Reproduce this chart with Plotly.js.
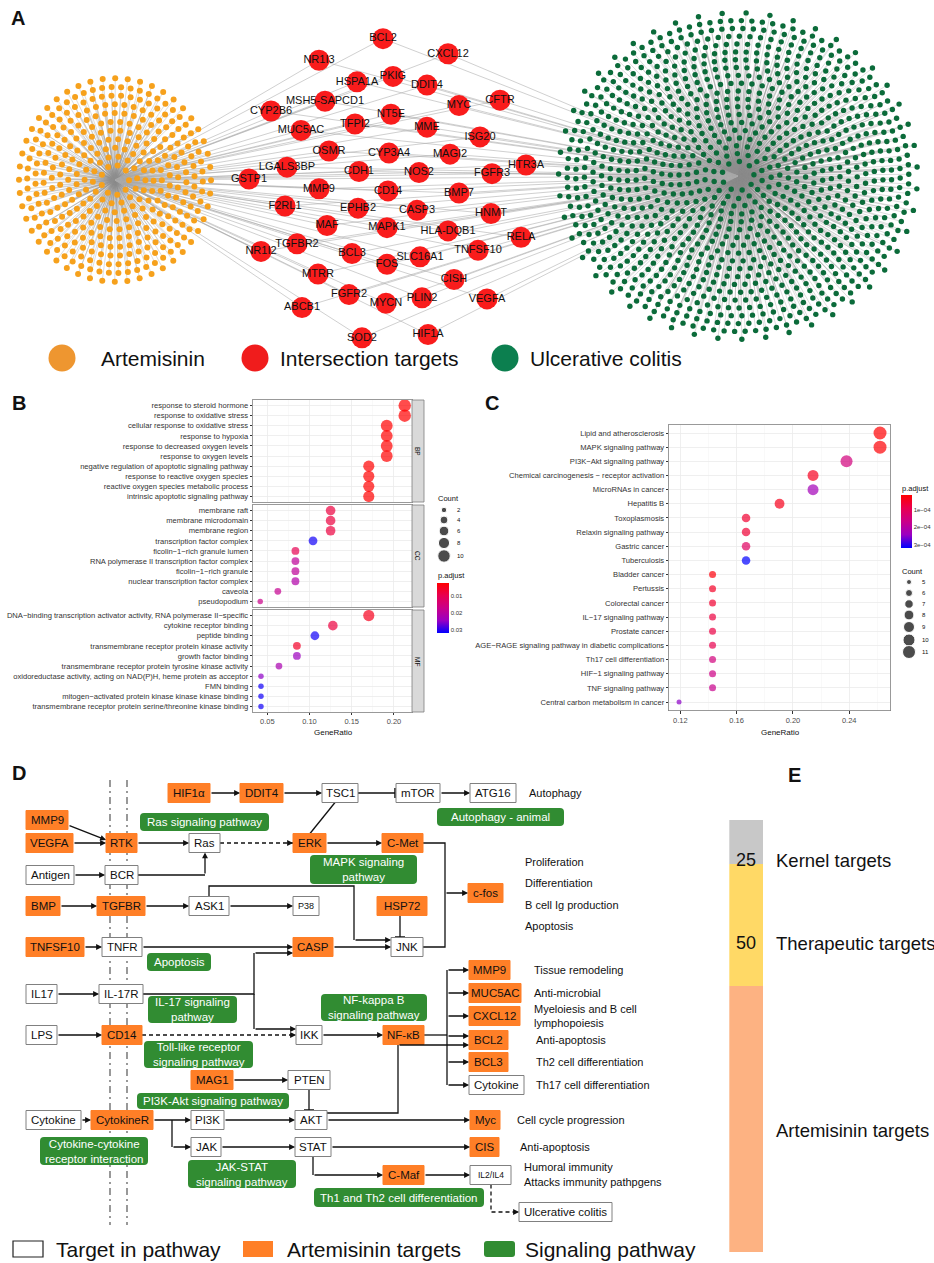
<!DOCTYPE html>
<html><head><meta charset="utf-8">
<script src="https://cdn.plot.ly/plotly-3.0.1.min.js"></script>
<style>html,body{margin:0;padding:0;background:#fff}#chart{width:934px;height:1263px}</style>
</head><body><div id="chart"></div>
<script>
// ================= DATA =================
// Panel A
const legendA = ['Artemisinin', 'Intersection targets', 'Ulcerative colitis'];
const intersectionTargets = ['BCL2','NR1I3','CXCL12','HSPA1A','PKIG','DDIT4','MSH5-SAPCD1','CYP2B6','MYC','CFTR',
 'NT5E','MME','TFPI2','MUC5AC','ISG20','OSMR','CYP3A4','MAGI2','HTR3A','LGALS3BP',
 'CDH1','NOS2','FGFR3','GSTP1','MMP9','CD14','BMP7','F2RL1','EPHB2','CASP3',
 'HNMT','MAF','MAPK1','HLA-DQB1','RELA','NR1I2','TGFBR2','BCL3','FOS','SLC16A1',
 'TNFSF10','MTRR','CISH','FGFR2','MYCN','PLIN2','VEGFA','ABCB1','SOD2','HIF1A'];
const artemisininNodeCount = 380;   // estimated number of orange nodes
const colitisNodeCount = 1100;      // estimated number of green nodes

// Panel B (GO)
const bpTerms = ['response to steroid hormone','response to oxidative stress','cellular response to oxidative stress','response to hypoxia','response to decreased oxygen levels','response to oxygen levels','negative regulation of apoptotic signaling pathway','response to reactive oxygen species','reactive oxygen species metabolic process','intrinsic apoptotic signaling pathway'];
const bpCounts = [10,10,9,9,9,9,8,8,8,8];
const bpPadj = [0.0003,0.0003,0.0005,0.0005,0.0005,0.0005,0.0008,0.0008,0.0008,0.0008];
const ccTerms = ['membrane raft','membrane microdomain','membrane region','transcription factor complex','ficolin\u22121\u2212rich granule lumen','RNA polymerase II transcription factor complex','ficolin\u22121\u2212rich granule','nuclear transcription factor complex','caveola','pseudopodium'];
const ccCounts = [6,6,6,5,4,4,4,4,3,2];
const ccPadj = [0.008,0.008,0.008,0.031,0.010,0.019,0.019,0.021,0.018,0.017];
const mfTerms = ['DNA\u2212binding transcription activator activity, RNA polymerase II\u2212specific','cytokine receptor binding','peptide binding','transmembrane receptor protein kinase activity','growth factor binding','transmembrane receptor protein tyrosine kinase activity','oxidoreductase activity, acting on NAD(P)H, heme protein as acceptor','FMN binding','mitogen\u2212activated protein kinase kinase kinase binding','transmembrane receptor protein serine/threonine kinase binding'];
const mfCounts = [8,6,5,4,4,3,2,2,2,2];
const mfPadj = [0.005,0.008,0.031,0.006,0.024,0.022,0.025,0.031,0.031,0.031];
const goDenominators = {BP:47, CC:48, MF:47};
const goCountLegend = [2,4,6,8,10];
const goPadjTicks = [0.01,0.02,0.03];

// Panel C (KEGG)
const keggTerms = ['Lipid and atherosclerosis','MAPK signaling pathway','PI3K\u2212Akt signaling pathway','Chemical carcinogenesis \u2212 receptor activation','MicroRNAs in cancer','Hepatitis B','Toxoplasmosis','Relaxin signaling pathway','Gastric cancer','Tuberculosis','Bladder cancer','Pertussis','Colorectal cancer','IL\u221217 signaling pathway','Prostate cancer','AGE\u2212RAGE signaling pathway in diabetic complications','Th17 cell differentiation','HIF\u22121 signaling pathway','TNF signaling pathway','Central carbon metabolism in cancer'];
const keggCounts = [11,11,10,9,9,8,7,7,7,7,6,6,6,6,6,6,6,6,6,5];
const keggPadj = [1.5e-5,1.8e-5,1.5e-4,4.5e-5,2.3e-4,4e-5,6e-5,6.5e-5,1.1e-4,3.2e-4,2.5e-5,5e-5,6e-5,7.5e-5,8e-5,9e-5,1.5e-4,1.6e-4,1.7e-4,2.5e-4];
const keggDenominator = 42;
const keggCountLegend = [5,6,7,8,9,10,11];
const keggPadjTicks = [1e-4,2e-4,3e-4];
const keggPadjTickText = ['1e\u221204','2e\u221204','3e\u221204'];

// Panel E
const eCategories = ['Artemisinin targets','Therapeutic targets','Kernel targets'];
const eValues = [150, 69, 25];       // relative segment lengths as drawn
const eNumbers = ['', '50', '25'];

// ================= LAYOUT CONSTANTS =================
const W=934, H=1263;
const fx = x => x/W, fy = y => 1 - y/H;
const FONT = 'Liberation Sans, Arial, Helvetica, sans-serif';
const traces = [], shapes = [], annotations = [];
const layout = {
  width:W, height:H, margin:{l:0,r:0,t:0,b:0}, paper_bgcolor:'#fff', plot_bgcolor:'rgba(0,0,0,0)',
  showlegend:false, font:{family:FONT, color:'#111'}, barmode:'stack', bargap:0,
  xaxis:{domain:[0,1], range:[0,W], visible:false, fixedrange:true},
  yaxis:{domain:[0,1], range:[H,0], visible:false, fixedrange:true},
  shapes, annotations
};
function txt(x,y,text,size,opt={}){
  annotations.push(Object.assign({xref:'x',yref:'y',x,y,text,showarrow:false,
    font:{size,color:opt.color||'#111',family:FONT},xanchor:opt.xa||'left',yanchor:opt.ya||'middle'},opt.extra||{}));
}
// panel letters
[['A',9,18],['B',10,403],['C',483,403],['D',10,773],['E',786,775]].forEach(p=>txt(p[1],p[2],'<b>'+p[0]+'</b>',20));

// ================= PANEL A =================
const HUB_A=[115,180], HUB_U=[738,176];
const redLayout = [[383,33],[319,53],[448,47],[357,73],[393,68],[427,76],[325,91],[271,100],[459,95],[500,90],
 [391,103],[427,115],[355,112],[301,118],[480,124],[329,137],[389,139],[450,140],[526,150],[287,152],
 [359,156],[419,157],[492,158],[249,163],[319,172],[388,174],[459,176],[285,188],[358,190],[417,192],
 [491,195],[327,206],[387,208],[448,211],[521,217],[261,230],[297,223],[352,232],[387,242],[420,235],
 [478,229],[318,251],[454,256],[349,270],[386,278],[422,273],[487,274],[302,282],[362,310],[428,307]]
 .map(p=>[p[0],1.08*p[1]+3]);
function ringLayout(n,c,r0,dr,spacing,ky){
  const pts=[]; let r=r0;
  while(pts.length<n){
    const k=Math.max(6,Math.floor(2*Math.PI*r/spacing));
    const m=Math.min(k,n-pts.length);
    for(let j=0;j<m;j++){const a=2*Math.PI*j/m+0.3*r; pts.push([c[0]+r*Math.cos(a),c[1]+ky*r*Math.sin(a)]);}
    r+=dr;
  }
  return pts;
}
const orangePts = ringLayout(artemisininNodeCount,HUB_A,14,8.2,9.5,1.06);
const greenPts = ringLayout(colitisNodeCount,HUB_U,16,8.6,10.5,0.91);
const ex=[],ey=[];
orangePts.forEach(p=>{ex.push(HUB_A[0],p[0],null);ey.push(HUB_A[1],p[1],null);});
greenPts.forEach(p=>{ex.push(HUB_U[0],p[0],null);ey.push(HUB_U[1],p[1],null);});
traces.push({type:'scatter',mode:'lines',x:ex,y:ey,line:{color:'rgba(140,140,140,0.5)',width:0.6},hoverinfo:'skip'});
const rx=[],ry=[];
redLayout.forEach(p=>{rx.push(HUB_A[0],p[0],HUB_U[0],null);ry.push(HUB_A[1],p[1],HUB_U[1],null);});
traces.push({type:'scatter',mode:'lines',x:rx,y:ry,line:{color:'rgba(170,170,170,0.8)',width:0.7},hoverinfo:'skip'});
traces.push({type:'scatter',mode:'markers',x:orangePts.map(p=>p[0]),y:orangePts.map(p=>p[1]),marker:{size:6,color:'#F6A11C'},hoverinfo:'skip'});
traces.push({type:'scatter',mode:'markers',x:greenPts.map(p=>p[0]),y:greenPts.map(p=>p[1]),marker:{size:5.4,color:'#0B6B3A'},hoverinfo:'skip'});
traces.push({type:'scatter',mode:'markers+text',x:redLayout.map(p=>p[0]),y:redLayout.map(p=>p[1]),text:intersectionTargets,
  textposition:'middle center',textfont:{size:11,color:'#111',family:FONT},marker:{size:21,color:'#F91C1C'},hoverinfo:'skip'});
// legend A
const LEGY=358;
const legAx=[62,255,505], legAcol=['#EE9630','#F01C1C','#0C7F4F'];
traces.push({type:'scatter',mode:'markers',x:legAx,y:legAx.map(()=>LEGY),marker:{size:27,color:legAcol},hoverinfo:'skip'});
legendA.forEach((t,i)=>txt(legAx[i]+(i===0?37:23),LEGY,t,21));

// ================= PANEL B =================
const padjScale=[[0,'#0000FF'],[0.25,'#9A00C2'],[0.5,'#CA0089'],[0.75,'#E80050'],[1,'#FF0000']];
const sizeB = c => Math.sqrt(Math.max(4,-1.5+15.75*c));
const sizeC = c => Math.sqrt(Math.max(4,-95+24*c));
const facets=[
  {terms:bpTerms,counts:bpCounts,padj:bpPadj,den:goDenominators.BP,top:400,bot:502,strip:'BP'},
  {terms:ccTerms,counts:ccCounts,padj:ccPadj,den:goDenominators.CC,top:505,bot:607,strip:'CC'},
  {terms:mfTerms,counts:mfCounts,padj:mfPadj,den:goDenominators.MF,top:610,bot:712,strip:'MF'}];
const BPMIN=0.0023, BPMAX=0.0318;
facets.forEach((f,i)=>{
  const n=i+2;
  layout['xaxis'+n]={domain:[fx(253),fx(412)],anchor:'y'+n,range:[0.0331,0.2214],tick0:0.05,dtick:0.05,tickformat:'.2f',
    showticklabels:i===2,ticks:i===2?'outside':'',ticklen:2.5,tickcolor:'#333',tickfont:{size:7.5,color:'#4D4D4D'},
    showgrid:true,gridcolor:'#EBEBEB',gridwidth:0.8,minor:{dtick:0.025,tick0:0.05,showgrid:true,gridcolor:'#F4F4F4',gridwidth:0.5},
    showline:true,mirror:true,linecolor:'#7F7F7F',linewidth:0.8,zeroline:false,fixedrange:true};
  layout['yaxis'+n]={domain:[fy(f.bot),fy(f.top)],anchor:'x'+n,type:'category',categoryorder:'array',categoryarray:f.terms,
    range:[9.55,-0.55],ticks:'outside',ticklen:2.5,tickcolor:'#333',tickfont:{size:7.6,color:'#333'},
    showgrid:true,gridcolor:'#EBEBEB',gridwidth:0.8,showline:true,mirror:true,linecolor:'#7F7F7F',linewidth:0.8,zeroline:false,fixedrange:true};
  const mk={size:f.counts.map(sizeB),color:f.padj.map(p=>-p),cmin:-BPMAX,cmax:-BPMIN,colorscale:padjScale,showscale:i===0,line:{width:0}};
  if(i===0) mk.colorbar={x:fx(437),xanchor:'left',y:fy(583),yanchor:'top',len:50,lenmode:'pixels',thickness:11.5,thicknessmode:'pixels',
    outlinewidth:0,tickvals:goPadjTicks.map(v=>-v),ticktext:goPadjTicks.map(v=>v.toFixed(2)),ticks:'',tickfont:{size:6,color:'#333'},xpad:0,ypad:0,borderwidth:0};
  traces.push({type:'scatter',mode:'markers',xaxis:'x'+n,yaxis:'y'+n,x:f.counts.map(c=>c/f.den),y:f.terms,marker:mk,hoverinfo:'skip'});
  shapes.push({type:'rect',xref:'x',yref:'y',x0:412,x1:424,y0:f.top,y1:f.bot,fillcolor:'#D9D9D9',line:{color:'#7F7F7F',width:0.8},layer:'above'});
  txt(418,(f.top+f.bot)/2,f.strip,6.5,{xa:'center',extra:{textangle:90}});
});
txt(333,732,'GeneRatio',8,{xa:'center'});
txt(436,575,'p.adjust',7.5);
txt(436,498,'Count',7.5);
const bLegY=[510,520,531,543,556];
traces.push({type:'scatter',mode:'markers',x:bLegY.map(()=>444),y:bLegY,marker:{size:goCountLegend.map(sizeB),color:'#000'},hoverinfo:'skip'});
goCountLegend.forEach((c,i)=>txt(455,bLegY[i],String(c),6));

// ================= PANEL C =================
const CPMIN=1.4e-5, CPMAX=3.2e-4;
layout.xaxis5={domain:[fx(669),fx(890)],anchor:'y5',range:[0.1119,0.2690],tick0:0.12,dtick:0.04,tickformat:'.2f',
  ticks:'outside',ticklen:2.5,tickcolor:'#333',tickfont:{size:7.5,color:'#4D4D4D'},
  showgrid:true,gridcolor:'#EBEBEB',gridwidth:0.8,minor:{dtick:0.02,tick0:0.12,showgrid:true,gridcolor:'#F4F4F4',gridwidth:0.5},
  showline:true,mirror:true,linecolor:'#7F7F7F',linewidth:0.8,zeroline:false,fixedrange:true};
layout.yaxis5={domain:[fy(710.5),fy(424.5)],anchor:'x5',type:'category',categoryorder:'array',categoryarray:keggTerms,range:[19.6,-0.6],
  ticks:'outside',ticklen:2.5,tickcolor:'#333',tickfont:{size:7.6,color:'#333'},
  showgrid:true,gridcolor:'#EBEBEB',gridwidth:0.8,showline:true,mirror:true,linecolor:'#7F7F7F',linewidth:0.8,zeroline:false,fixedrange:true};
traces.push({type:'scatter',mode:'markers',xaxis:'x5',yaxis:'y5',x:keggCounts.map(c=>c/keggDenominator),y:keggTerms,
  marker:{size:keggCounts.map(sizeC),color:keggPadj.map(p=>-p),cmin:-CPMAX,cmax:-CPMIN,colorscale:padjScale,showscale:true,line:{width:0},
  colorbar:{x:fx(901),xanchor:'left',y:fy(495),yanchor:'top',len:53,lenmode:'pixels',thickness:11,thicknessmode:'pixels',
    outlinewidth:0,tickvals:keggPadjTicks.map(v=>-v),ticktext:keggPadjTickText,ticks:'',tickfont:{size:6,color:'#333'},xpad:0,ypad:0,borderwidth:0}},
  hoverinfo:'skip'});
txt(780,732,'GeneRatio',8,{xa:'center'});
txt(900,488,'p.adjust',7.5);
txt(900,571,'Count',7.5);
const cLegY=[582,593,604,615,627,640,652];
traces.push({type:'scatter',mode:'markers',x:cLegY.map(()=>909),y:cLegY,marker:{size:keggCountLegend.map(sizeC),color:'#000'},hoverinfo:'skip'});
keggCountLegend.forEach((c,i)=>txt(920,cLegY[i],String(c),6));

// ================= PANEL D =================
const OR='#FF7F27', GR='#318C32', LC='#111';
[110,127].forEach(x=>shapes.push({type:'line',xref:'x',yref:'y',x0:x,x1:x,y0:780,y1:1225,line:{color:'#555',width:1.2,dash:'7px,4px,2px,4px'},layer:'above'}));
function pathOf(pts){return pts.map((p,i)=>(i?'L':'M')+p[0]+','+p[1]).join(' ');}
function arrowHead(from,to){
  annotations.push({xref:'x',yref:'y',axref:'x',ayref:'y',x:to[0],y:to[1],ax:from[0],ay:from[1],text:'',showarrow:true,
    arrowhead:2,arrowsize:0.9,arrowwidth:1.3,arrowcolor:LC,standoff:0});
}
function conn(pts,opt={}){
  const n=pts.length;
  if(opt.dash){
    shapes.push({type:'path',xref:'x',yref:'y',path:pathOf(pts),line:{color:LC,width:1.3,dash:'4px,3px'},layer:'above'});
    const a=pts[n-2],b=pts[n-1],d=Math.hypot(b[0]-a[0],b[1]-a[1]);
    arrowHead([b[0]-(b[0]-a[0])*7/d,b[1]-(b[1]-a[1])*7/d],b);
    return;
  }
  if(opt.head===false || opt.tbar){
    shapes.push({type:'path',xref:'x',yref:'y',path:pathOf(pts),line:{color:LC,width:1.3},layer:'above'});
  } else {
    if(n>2) shapes.push({type:'path',xref:'x',yref:'y',path:pathOf(pts.slice(0,n-1)),line:{color:LC,width:1.3},layer:'above'});
    arrowHead(pts[n-2],pts[n-1]);
  }
  if(opt.tbar){
    const b=pts[n-1],a=pts[n-2];
    if(a[0]===b[0]) shapes.push({type:'line',xref:'x',yref:'y',x0:b[0]-5,x1:b[0]+5,y0:b[1],y1:b[1],line:{color:LC,width:1.5},layer:'above'});
    else shapes.push({type:'line',xref:'x',yref:'y',x0:b[0],x1:b[0],y0:b[1]-5,y1:b[1]+5,line:{color:LC,width:1.5},layer:'above'});
  }
}
// row centres
const R0=793, MM=820, R1=843, R2=875, R3=906, CF=893, R4=947, R5=994, R6=1035, RM=1080, R7=1120, R8=1147, R9=1175, UCY=1212;
const RC=[970,993,1016,1040,1062,1085];
conn([[210,R0],[240,R0]]);
conn([[283,R0],[322,R0]]);
conn([[358,R0],[395,R0]],{tbar:true});
conn([[440,R0],[470,R0]]);
conn([[68,MM+5],[106,R1-3]]);
conn([[73,R1],[106,R1]]);
conn([[137,R1],[189,R1]]);
conn([[220,R1],[293,R1]],{dash:true});
conn([[326,R1],[382,R1]]);
conn([[310,R1-9.5],[335,R0+9.5]],{head:false});
conn([[423,R1],[445,R1],[445,CF],[468,CF]]);
conn([[423,R4],[445,R4],[445,CF]],{head:false});
conn([[74,R2],[105,R2]]);
conn([[138,R2],[205,R2],[205,R1+9.5]]);
conn([[60,R3],[97,R3]]);
conn([[145,R3],[189,R3]]);
conn([[229,R3],[293,R3]]);
conn([[209,R3-9.5],[209,R3-20],[354,R3-20],[354,R4-7],[391,R4-7]]);
conn([[400,R3+9.5],[400,R4-10]],{tbar:true});
conn([[84,R4],[102,R4]]);
conn([[142,R4],[293,R4]]);
conn([[333,R4],[391,R4]]);
conn([[57,R5],[99,R5]]);
conn([[143,R5],[254,R5],[254,R4+6],[293,R4+6]]);
conn([[254,R5],[254,R6-6],[296,R6-6]]);
conn([[57,R6],[102,R6]]);
conn([[142,R6],[296,R6]],{dash:true});
conn([[322,R6],[383,R6]]);
conn([[424,R6],[447,R6]],{head:false});
conn([[447,RC[0]],[447,RC[5]]],{head:false});
[RC[0],RC[1],RC[2],RC[3]-4,RC[4],RC[5]].forEach(y=>conn([[447,y],[469,y]]));
conn([[233,RM],[288,RM]]);
conn([[309,RM+9.5],[309,R7-10]],{tbar:true});
conn([[81,R7],[91,R7]]);
conn([[153,R7],[191,R7]]);
conn([[224,R7],[295,R7]]);
conn([[327,R7],[470,R7]]);
conn([[327,R7-7],[398,R7-7],[398,RC[3]+5],[469,RC[3]+5]]);
conn([[172,R7],[172,R8],[191,R8]]);
conn([[221,R8],[295,R8]]);
conn([[331,R8],[470,R8]]);
conn([[313,R8+9.5],[313,R9],[383,R9]]);
conn([[424,R9],[470,R9]]);
conn([[491,R9+9.5],[491,UCY],[519,UCY]],{dash:true});

// boxes: [label, kind, x0, x1, yc, fontsize]
const dBoxes = [
 ['HIF1\u03b1','o',168,210,R0],['DDIT4','o',240,283,R0],['TSC1','w',322,358,R0],['mTOR','w',396,440,R0],['ATG16','w',470,516,R0],
 ['MMP9','o',26,68,MM],['VEGFA','o',26,73,R1],['RTK','o',106,137,R1],['Ras','w',189,220,R1],['ERK','o',293,326,R1],['C-Met','o',382,423,R1],
 ['Antigen','w',26,74,R2],['BCR','w',105,138,R2],
 ['BMP','o',26,60,R3],['TGFBR','o',97,145,R3],['ASK1','w',189,229,R3],['P38','w',293,319,R3,9],['HSP72','o',377,427,R3],
 ['c-fos','o',468,503,CF],
 ['TNFSF10','o',26,84,R4],['TNFR','w',102,142,R4],['CASP','o',293,333,R4],['JNK','w',391,423,R4],
 ['IL17','w',26,57,R5],['IL-17R','w',99,143,R5],
 ['MMP9','o',469,510,RC[0]],['MUC5AC','o',469,521,RC[1]],['CXCL12','o',469,520,RC[2]],
 ['LPS','w',26,57,R6],['CD14','o',102,142,R6],['IKK','w',296,322,R6],['NF-\u03baB','o',383,424,R6],
 ['BCL2','o',469,508,RC[3]],['BCL3','o',469,508,RC[4]],['Cytokine','w',469,524,RC[5]],
 ['MAG1','o',191,233,RM],['PTEN','w',288,330,RM],
 ['Cytokine','w',26,81,R7],['CytokineR','o',91,153,R7],['PI3K','w',191,224,R7],['AKT','w',295,327,R7],['Myc','o',470,500,R7],
 ['JAK','w',191,221,R8],['STAT','w',295,331,R8],['CIS','o',470,499,R8],
 ['C-Maf','o',383,424,R9],['IL2/IL4','w',470,511,R9,8.5],['Ulcerative colitis','w',519,612,UCY]];
const BH=19;
dBoxes.forEach(b=>{
  shapes.push({type:'rect',xref:'x',yref:'y',x0:b[2],x1:b[3],y0:b[4]-BH/2,y1:b[4]+BH/2,fillcolor:b[1]==='o'?OR:'#fff',
    line:{color:b[1]==='o'?OR:'#808080',width:1},layer:'above'});
  txt((b[2]+b[3])/2,b[4],b[0],b[5]||11.5,{xa:'center'});
});
function rrect(x0,y0,x1,y1,r){
  return `M${x0+r},${y0} L${x1-r},${y0} Q${x1},${y0} ${x1},${y0+r} L${x1},${y1-r} Q${x1},${y1} ${x1-r},${y1} L${x0+r},${y1} Q${x0},${y1} ${x0},${y1-r} L${x0},${y0+r} Q${x0},${y0} ${x0+r},${y0} Z`;
}
const gBoxes = [
 ['Autophagy - animal',437,564,808,826],['Ras signaling pathway',140,269,813,831],['MAPK signaling<br>pathway',310,417,855,884],
 ['Apoptosis',147,211,953,971],['IL-17 signaling<br>pathway',148,237,996,1023],['NF-kappa B<br>signaling pathway',321,427,994,1021],
 ['Toll-like receptor<br>signaling pathway',144,253,1041,1068],['PI3K-Akt signaling pathway',137,289,1093,1109],
 ['Cytokine-cytokine<br>receptor interaction',40,148,1137,1165],['JAK-STAT<br>signaling pathway',188,296,1160,1188],
 ['Th1 and Th2 cell differentiation',314,484,1188,1207]];
gBoxes.forEach(g=>{
  shapes.push({type:'path',xref:'x',yref:'y',path:rrect(g[1],g[3],g[2],g[4],4),fillcolor:GR,line:{width:0},layer:'above'});
  txt((g[1]+g[2])/2,(g[3]+g[4])/2,g[0],11.5,{xa:'center',color:'#fff',extra:{align:'center'}});
});
[['Autophagy',527,R0],['Proliferation',523,862],['Differentiation',523,883],['B cell Ig production',523,905],['Apoptosis',523,926],
 ['Tissue remodeling',532,RC[0]],['Anti-microbial',532,RC[1]],['Myeloiesis and B cell',532,1009],['lymphopoiesis',532,1023],
 ['Anti-apoptosis',534,RC[3]],['Th2 cell differentiation',534,RC[4]],['Th17 cell differentiation',534,RC[5]],
 ['Cell cycle progression',515,R7],['Anti-apoptosis',518,R8],['Humoral immunity',522,1167],['Attacks immunity pathpgens',522,1182]]
 .forEach(t=>txt(t[1],t[2],t[0],11));
// legend D
const LDY=1249;
shapes.push({type:'rect',xref:'x',yref:'y',x0:13,x1:43,y0:LDY-8,y1:LDY+8,fillcolor:'#fff',line:{color:'#222',width:1.2},layer:'above'});
txt(54,LDY,'Target in pathway',21);
shapes.push({type:'rect',xref:'x',yref:'y',x0:243,x1:273,y0:LDY-8,y1:LDY+8,fillcolor:OR,line:{width:0},layer:'above'});
txt(285,LDY,'Artemisinin targets',21);
shapes.push({type:'path',xref:'x',yref:'y',path:rrect(484,LDY-8,515,LDY+8,3),fillcolor:GR,line:{width:0},layer:'above'});
txt(523,LDY,'Signaling pathway',21);

// ================= PANEL E =================
const eColors=['#FDB282','#FFD966','#C8C8C8'];
const eTotal = eValues.reduce((a,b)=>a+b,0);
layout.xaxis6={domain:[fx(729.3),fx(763.3)],anchor:'y6',range:[-0.5,0.5],visible:false,fixedrange:true};
layout.yaxis6={domain:[fy(1252),fy(820)],anchor:'x6',range:[0,eTotal],visible:false,fixedrange:true};
eCategories.forEach((c,i)=>traces.push({type:'bar',x:[0],y:[eValues[i]],width:[1],name:c,marker:{color:eColors[i],line:{width:0}},xaxis:'x6',yaxis:'y6',hoverinfo:'skip'}));
txt(746,860,eNumbers[2],18,{xa:'center'});
txt(774,860,eCategories[2],18.5);
txt(746,943,eNumbers[1],18,{xa:'center'});
txt(774,943,eCategories[1],18.5);
txt(774,1130,eCategories[0],18.5);

Plotly.newPlot('chart',traces,layout,{staticPlot:true});
</script></body></html>
